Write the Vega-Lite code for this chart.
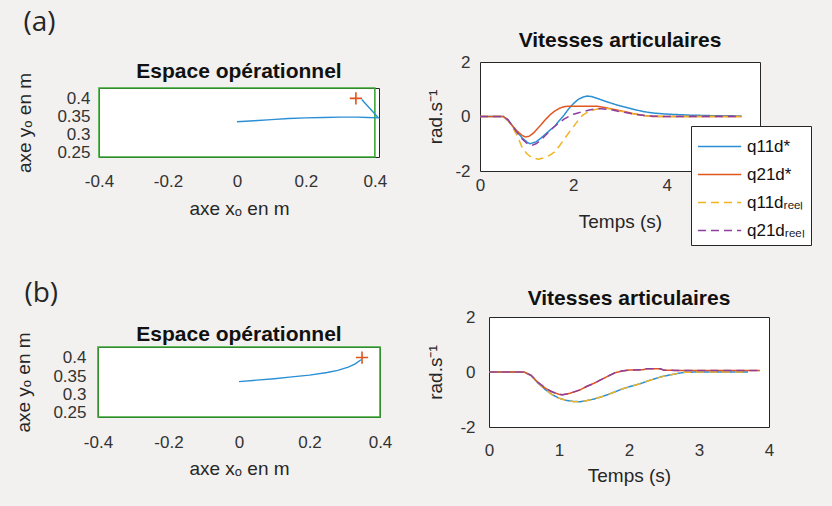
{
  "$schema": "https://vega.github.io/schema/vega-lite/v6.json",
  "background": "#f2f1f0",
  "padding": {"left": 14, "top": 8, "right": 20, "bottom": 22},
  "config": {
    "font": "Liberation Sans",
    "locale": {"number": {"decimal": ".", "thousands": ",", "grouping": [3], "currency": ["$", ""], "minus": "-"}},
    "view": {"stroke": "#262626", "strokeWidth": 1, "fill": "white"},
    "axis": {"grid": false, "domain": false, "labelFont": "Liberation Sans", "labelFontSize": 17, "labelColor": "#333333", "titleFont": "Liberation Sans", "titleFontSize": 19, "titleFontWeight": "normal", "titleColor": "#262626", "tickColor": "#262626", "ticks": false, "labelFlush": false, "labelOverlap": false, "labelBound": false, "format": "~g"},
    "title": {"fontSize": 21, "fontWeight": "bold", "color": "#111111", "font": "Liberation Sans"}
  },
  "datasets": {
    "blank": [{"k": 0}],
    "boxA": [{"x": -0.4, "x2": 0.4, "y": 0.238, "y2": 0.43}],
    "trajA": [
      {"i": 0, "x": 0.0, "y": 0.336}, {"i": 1, "x": 0.05, "y": 0.339}, {"i": 2, "x": 0.1, "y": 0.342},
      {"i": 3, "x": 0.15, "y": 0.345}, {"i": 4, "x": 0.2, "y": 0.347}, {"i": 5, "x": 0.25, "y": 0.348},
      {"i": 6, "x": 0.3, "y": 0.349}, {"i": 7, "x": 0.35, "y": 0.349}, {"i": 8, "x": 0.38, "y": 0.348},
      {"i": 9, "x": 0.41, "y": 0.347}, {"i": 10, "x": 0.362, "y": 0.398}
    ],
    "targetA": [{"x": 0.345, "y": 0.401}],
    "trajB": [
      {"i": 0, "x": 0.0, "y": 0.335}, {"i": 1, "x": 0.05, "y": 0.339}, {"i": 2, "x": 0.1, "y": 0.343},
      {"i": 3, "x": 0.15, "y": 0.348}, {"i": 4, "x": 0.2, "y": 0.353}, {"i": 5, "x": 0.25, "y": 0.36},
      {"i": 6, "x": 0.28, "y": 0.366}, {"i": 7, "x": 0.31, "y": 0.375}, {"i": 8, "x": 0.33, "y": 0.384},
      {"i": 9, "x": 0.346, "y": 0.395}
    ],
    "targetB": [{"x": 0.349, "y": 0.401}],
    "velA": [
      {"s": "q11d*", "t": 0, "v": 0}, {"s": "q11d*", "t": 0.5, "v": 0}, {"s": "q11d*", "t": 0.6, "v": -0.12},
      {"s": "q11d*", "t": 0.7, "v": -0.35}, {"s": "q11d*", "t": 0.8, "v": -0.58}, {"s": "q11d*", "t": 0.9, "v": -0.78},
      {"s": "q11d*", "t": 1.0, "v": -0.93}, {"s": "q11d*", "t": 1.07, "v": -1.0}, {"s": "q11d*", "t": 1.2, "v": -0.93},
      {"s": "q11d*", "t": 1.3, "v": -0.8}, {"s": "q11d*", "t": 1.4, "v": -0.65}, {"s": "q11d*", "t": 1.5, "v": -0.5},
      {"s": "q11d*", "t": 1.6, "v": -0.36}, {"s": "q11d*", "t": 1.7, "v": -0.15}, {"s": "q11d*", "t": 1.8, "v": 0.05},
      {"s": "q11d*", "t": 1.9, "v": 0.28}, {"s": "q11d*", "t": 2.0, "v": 0.47}, {"s": "q11d*", "t": 2.1, "v": 0.62},
      {"s": "q11d*", "t": 2.2, "v": 0.71}, {"s": "q11d*", "t": 2.3, "v": 0.75}, {"s": "q11d*", "t": 2.4, "v": 0.73},
      {"s": "q11d*", "t": 2.5, "v": 0.67}, {"s": "q11d*", "t": 2.7, "v": 0.55}, {"s": "q11d*", "t": 2.9, "v": 0.44},
      {"s": "q11d*", "t": 3.1, "v": 0.35}, {"s": "q11d*", "t": 3.3, "v": 0.26}, {"s": "q11d*", "t": 3.5, "v": 0.18},
      {"s": "q11d*", "t": 3.7, "v": 0.13}, {"s": "q11d*", "t": 3.9, "v": 0.1}, {"s": "q11d*", "t": 4.1, "v": 0.08},
      {"s": "q11d*", "t": 4.5, "v": 0.05}, {"s": "q11d*", "t": 5.0, "v": 0.03}, {"s": "q11d*", "t": 5.6, "v": 0.02},
      {"s": "q21d*", "t": 0, "v": 0}, {"s": "q21d*", "t": 0.5, "v": 0}, {"s": "q21d*", "t": 0.6, "v": -0.15},
      {"s": "q21d*", "t": 0.7, "v": -0.36}, {"s": "q21d*", "t": 0.8, "v": -0.54}, {"s": "q21d*", "t": 0.9, "v": -0.69},
      {"s": "q21d*", "t": 0.97, "v": -0.75}, {"s": "q21d*", "t": 1.05, "v": -0.73}, {"s": "q21d*", "t": 1.15, "v": -0.6},
      {"s": "q21d*", "t": 1.3, "v": -0.32}, {"s": "q21d*", "t": 1.4, "v": -0.12}, {"s": "q21d*", "t": 1.5, "v": 0.06},
      {"s": "q21d*", "t": 1.6, "v": 0.2}, {"s": "q21d*", "t": 1.7, "v": 0.3}, {"s": "q21d*", "t": 1.8, "v": 0.36},
      {"s": "q21d*", "t": 1.9, "v": 0.38}, {"s": "q21d*", "t": 2.5, "v": 0.38}, {"s": "q21d*", "t": 2.7, "v": 0.32},
      {"s": "q21d*", "t": 2.9, "v": 0.25}, {"s": "q21d*", "t": 3.1, "v": 0.18}, {"s": "q21d*", "t": 3.3, "v": 0.1},
      {"s": "q21d*", "t": 3.5, "v": 0.04}, {"s": "q21d*", "t": 3.7, "v": 0.0}, {"s": "q21d*", "t": 5.6, "v": 0.0},
      {"s": "q11dᵣₑₑₗ", "t": 0, "v": 0}, {"s": "q11dᵣₑₑₗ", "t": 0.5, "v": 0}, {"s": "q11dᵣₑₑₗ", "t": 0.6, "v": -0.14},
      {"s": "q11dᵣₑₑₗ", "t": 0.7, "v": -0.4}, {"s": "q11dᵣₑₑₗ", "t": 0.8, "v": -0.72}, {"s": "q11dᵣₑₑₗ", "t": 0.9, "v": -1.12},
      {"s": "q11dᵣₑₑₗ", "t": 1.0, "v": -1.36}, {"s": "q11dᵣₑₑₗ", "t": 1.1, "v": -1.5}, {"s": "q11dᵣₑₑₗ", "t": 1.25, "v": -1.57},
      {"s": "q11dᵣₑₑₗ", "t": 1.4, "v": -1.5}, {"s": "q11dᵣₑₑₗ", "t": 1.5, "v": -1.42}, {"s": "q11dᵣₑₑₗ", "t": 1.6, "v": -1.3},
      {"s": "q11dᵣₑₑₗ", "t": 1.7, "v": -1.08}, {"s": "q11dᵣₑₑₗ", "t": 1.8, "v": -0.85}, {"s": "q11dᵣₑₑₗ", "t": 1.9, "v": -0.6},
      {"s": "q11dᵣₑₑₗ", "t": 2.0, "v": -0.38}, {"s": "q11dᵣₑₑₗ", "t": 2.1, "v": -0.15}, {"s": "q11dᵣₑₑₗ", "t": 2.2, "v": 0.05},
      {"s": "q11dᵣₑₑₗ", "t": 2.3, "v": 0.15}, {"s": "q11dᵣₑₑₗ", "t": 2.4, "v": 0.22}, {"s": "q11dᵣₑₑₗ", "t": 2.5, "v": 0.27},
      {"s": "q11dᵣₑₑₗ", "t": 2.6, "v": 0.3}, {"s": "q11dᵣₑₑₗ", "t": 2.8, "v": 0.28}, {"s": "q11dᵣₑₑₗ", "t": 3.0, "v": 0.2},
      {"s": "q11dᵣₑₑₗ", "t": 3.2, "v": 0.13}, {"s": "q11dᵣₑₑₗ", "t": 3.4, "v": 0.06}, {"s": "q11dᵣₑₑₗ", "t": 3.6, "v": 0.02},
      {"s": "q11dᵣₑₑₗ", "t": 4.0, "v": 0.0}, {"s": "q11dᵣₑₑₗ", "t": 5.6, "v": 0.0},
      {"s": "q21dᵣₑₑₗ", "t": 0, "v": 0}, {"s": "q21dᵣₑₑₗ", "t": 0.5, "v": 0}, {"s": "q21dᵣₑₑₗ", "t": 0.6, "v": -0.12},
      {"s": "q21dᵣₑₑₗ", "t": 0.7, "v": -0.36}, {"s": "q21dᵣₑₑₗ", "t": 0.8, "v": -0.6}, {"s": "q21dᵣₑₑₗ", "t": 0.9, "v": -0.82},
      {"s": "q21dᵣₑₑₗ", "t": 1.0, "v": -0.98}, {"s": "q21dᵣₑₑₗ", "t": 1.1, "v": -1.07}, {"s": "q21dᵣₑₑₗ", "t": 1.2, "v": -1.0},
      {"s": "q21dᵣₑₑₗ", "t": 1.3, "v": -0.87}, {"s": "q21dᵣₑₑₗ", "t": 1.4, "v": -0.7}, {"s": "q21dᵣₑₑₗ", "t": 1.5, "v": -0.52},
      {"s": "q21dᵣₑₑₗ", "t": 1.6, "v": -0.36}, {"s": "q21dᵣₑₑₗ", "t": 1.7, "v": -0.22}, {"s": "q21dᵣₑₑₗ", "t": 1.8, "v": -0.1},
      {"s": "q21dᵣₑₑₗ", "t": 1.9, "v": 0.0}, {"s": "q21dᵣₑₑₗ", "t": 2.0, "v": 0.08}, {"s": "q21dᵣₑₑₗ", "t": 2.1, "v": 0.13},
      {"s": "q21dᵣₑₑₗ", "t": 2.2, "v": 0.18}, {"s": "q21dᵣₑₑₗ", "t": 2.3, "v": 0.22}, {"s": "q21dᵣₑₑₗ", "t": 2.4, "v": 0.26},
      {"s": "q21dᵣₑₑₗ", "t": 2.5, "v": 0.28}, {"s": "q21dᵣₑₑₗ", "t": 2.6, "v": 0.28}, {"s": "q21dᵣₑₑₗ", "t": 2.8, "v": 0.25},
      {"s": "q21dᵣₑₑₗ", "t": 3.0, "v": 0.18}, {"s": "q21dᵣₑₑₗ", "t": 3.2, "v": 0.12}, {"s": "q21dᵣₑₑₗ", "t": 3.4, "v": 0.06},
      {"s": "q21dᵣₑₑₗ", "t": 3.6, "v": 0.02}, {"s": "q21dᵣₑₑₗ", "t": 4.0, "v": 0.0}, {"s": "q21dᵣₑₑₗ", "t": 5.6, "v": 0.0}
    ],
    "velB": [
      {"s": "q11d*", "t": 0, "v": 0}, {"s": "q11d*", "t": 0.5, "v": 0}, {"s": "q11d*", "t": 0.6, "v": -0.12},
      {"s": "q11d*", "t": 0.7, "v": -0.4}, {"s": "q11d*", "t": 0.8, "v": -0.63}, {"s": "q11d*", "t": 0.9, "v": -0.82},
      {"s": "q11d*", "t": 1.0, "v": -0.95}, {"s": "q11d*", "t": 1.1, "v": -1.03}, {"s": "q11d*", "t": 1.2, "v": -1.07},
      {"s": "q11d*", "t": 1.3, "v": -1.08}, {"s": "q11d*", "t": 1.4, "v": -1.04}, {"s": "q11d*", "t": 1.5, "v": -0.98},
      {"s": "q11d*", "t": 1.6, "v": -0.91}, {"s": "q11d*", "t": 1.7, "v": -0.82}, {"s": "q11d*", "t": 1.8, "v": -0.72},
      {"s": "q11d*", "t": 1.9, "v": -0.62}, {"s": "q11d*", "t": 2.0, "v": -0.54}, {"s": "q11d*", "t": 2.1, "v": -0.47},
      {"s": "q11d*", "t": 2.2, "v": -0.39}, {"s": "q11d*", "t": 2.3, "v": -0.3}, {"s": "q11d*", "t": 2.4, "v": -0.22},
      {"s": "q11d*", "t": 2.5, "v": -0.15}, {"s": "q11d*", "t": 2.6, "v": -0.1}, {"s": "q11d*", "t": 2.7, "v": -0.05},
      {"s": "q11d*", "t": 2.8, "v": -0.01}, {"s": "q11d*", "t": 3.0, "v": 0.0}, {"s": "q11d*", "t": 3.7, "v": 0.0},
      {"s": "q21d*", "t": 0, "v": 0}, {"s": "q21d*", "t": 0.5, "v": 0}, {"s": "q21d*", "t": 0.6, "v": -0.12},
      {"s": "q21d*", "t": 0.7, "v": -0.38}, {"s": "q21d*", "t": 0.8, "v": -0.58}, {"s": "q21d*", "t": 0.9, "v": -0.72},
      {"s": "q21d*", "t": 1.0, "v": -0.81}, {"s": "q21d*", "t": 1.05, "v": -0.83}, {"s": "q21d*", "t": 1.15, "v": -0.78},
      {"s": "q21d*", "t": 1.3, "v": -0.65}, {"s": "q21d*", "t": 1.4, "v": -0.52}, {"s": "q21d*", "t": 1.5, "v": -0.41},
      {"s": "q21d*", "t": 1.6, "v": -0.28}, {"s": "q21d*", "t": 1.7, "v": -0.15}, {"s": "q21d*", "t": 1.8, "v": -0.03},
      {"s": "q21d*", "t": 1.9, "v": 0.04}, {"s": "q21d*", "t": 2.0, "v": 0.07}, {"s": "q21d*", "t": 2.2, "v": 0.08},
      {"s": "q21d*", "t": 2.25, "v": 0.12}, {"s": "q21d*", "t": 2.45, "v": 0.12}, {"s": "q21d*", "t": 2.5, "v": 0.06},
      {"s": "q21d*", "t": 3.87, "v": 0.05},
      {"s": "q11dᵣₑₑₗ", "t": 0, "v": 0}, {"s": "q11dᵣₑₑₗ", "t": 0.5, "v": 0}, {"s": "q11dᵣₑₑₗ", "t": 0.6, "v": -0.12},
      {"s": "q11dᵣₑₑₗ", "t": 0.7, "v": -0.4}, {"s": "q11dᵣₑₑₗ", "t": 0.8, "v": -0.63}, {"s": "q11dᵣₑₑₗ", "t": 0.9, "v": -0.82},
      {"s": "q11dᵣₑₑₗ", "t": 1.0, "v": -0.95}, {"s": "q11dᵣₑₑₗ", "t": 1.1, "v": -1.03}, {"s": "q11dᵣₑₑₗ", "t": 1.2, "v": -1.07},
      {"s": "q11dᵣₑₑₗ", "t": 1.3, "v": -1.08}, {"s": "q11dᵣₑₑₗ", "t": 1.4, "v": -1.04}, {"s": "q11dᵣₑₑₗ", "t": 1.5, "v": -0.98},
      {"s": "q11dᵣₑₑₗ", "t": 1.6, "v": -0.91}, {"s": "q11dᵣₑₑₗ", "t": 1.7, "v": -0.82}, {"s": "q11dᵣₑₑₗ", "t": 1.8, "v": -0.72},
      {"s": "q11dᵣₑₑₗ", "t": 1.9, "v": -0.62}, {"s": "q11dᵣₑₑₗ", "t": 2.0, "v": -0.54}, {"s": "q11dᵣₑₑₗ", "t": 2.1, "v": -0.47},
      {"s": "q11dᵣₑₑₗ", "t": 2.2, "v": -0.39}, {"s": "q11dᵣₑₑₗ", "t": 2.3, "v": -0.3}, {"s": "q11dᵣₑₑₗ", "t": 2.4, "v": -0.22},
      {"s": "q11dᵣₑₑₗ", "t": 2.5, "v": -0.15}, {"s": "q11dᵣₑₑₗ", "t": 2.6, "v": -0.1}, {"s": "q11dᵣₑₑₗ", "t": 2.7, "v": -0.05},
      {"s": "q11dᵣₑₑₗ", "t": 2.8, "v": -0.01}, {"s": "q11dᵣₑₑₗ", "t": 3.0, "v": 0.0}, {"s": "q11dᵣₑₑₗ", "t": 3.7, "v": 0.0},
      {"s": "q21dᵣₑₑₗ", "t": 0, "v": 0}, {"s": "q21dᵣₑₑₗ", "t": 0.5, "v": 0}, {"s": "q21dᵣₑₑₗ", "t": 0.6, "v": -0.12},
      {"s": "q21dᵣₑₑₗ", "t": 0.7, "v": -0.38}, {"s": "q21dᵣₑₑₗ", "t": 0.8, "v": -0.58}, {"s": "q21dᵣₑₑₗ", "t": 0.9, "v": -0.72},
      {"s": "q21dᵣₑₑₗ", "t": 1.0, "v": -0.81}, {"s": "q21dᵣₑₑₗ", "t": 1.05, "v": -0.83}, {"s": "q21dᵣₑₑₗ", "t": 1.15, "v": -0.78},
      {"s": "q21dᵣₑₑₗ", "t": 1.3, "v": -0.65}, {"s": "q21dᵣₑₑₗ", "t": 1.4, "v": -0.52}, {"s": "q21dᵣₑₑₗ", "t": 1.5, "v": -0.41},
      {"s": "q21dᵣₑₑₗ", "t": 1.6, "v": -0.28}, {"s": "q21dᵣₑₑₗ", "t": 1.7, "v": -0.15}, {"s": "q21dᵣₑₑₗ", "t": 1.8, "v": -0.03},
      {"s": "q21dᵣₑₑₗ", "t": 1.9, "v": 0.04}, {"s": "q21dᵣₑₑₗ", "t": 2.0, "v": 0.07}, {"s": "q21dᵣₑₑₗ", "t": 2.2, "v": 0.08},
      {"s": "q21dᵣₑₑₗ", "t": 2.25, "v": 0.12}, {"s": "q21dᵣₑₑₗ", "t": 2.45, "v": 0.12}, {"s": "q21dᵣₑₑₗ", "t": 2.5, "v": 0.06},
      {"s": "q21dᵣₑₑₗ", "t": 3.87, "v": 0.05}
    ]
  },
  "spacing": 33,
  "resolve": {"scale": {"color": "independent", "strokeDash": "independent", "x": "independent", "y": "independent"}, "legend": {"color": "independent", "strokeDash": "independent"}},
  "vconcat": [
    {
      "title": {"text": "(a)", "anchor": "start", "fontSize": 28, "fontWeight": "normal", "font": "Open Sans", "color": "#262626", "offset": -7, "dx": 8},
      "spacing": 38,
      "resolve": {"scale": {"color": "independent", "strokeDash": "independent", "x": "independent", "y": "independent"}, "legend": {"color": "independent", "strokeDash": "independent"}},
      "hconcat": [
        {
          "spacing": -102,
          "hconcat": [
            {"width": 1, "height": 1, "data": {"name": "blank"}, "mark": {"type": "point", "size": 0, "opacity": 0}, "encoding": {}, "view": {"stroke": null, "fill": null}},
            {
              "spacing": -3,
              "vconcat": [
                {"width": 1, "height": 1, "data": {"name": "blank"}, "mark": {"type": "point", "size": 0, "opacity": 0}, "encoding": {}, "view": {"stroke": null, "fill": null}},
                {
                  "width": 280, "height": 69,
                  "title": {"text": "Espace opérationnel", "offset": -10},
                  "encoding": {
                    "x": {"field": "x", "type": "quantitative", "scale": {"domain": [-0.4, 0.412], "nice": false, "zero": false}, "axis": {"values": [-0.4, -0.2, 0, 0.2, 0.4], "title": "axe xₒ en m", "labelPadding": 16, "titlePadding": 10}},
                    "y": {"field": "y", "type": "quantitative", "scale": {"domain": [0.238, 0.43], "nice": false, "zero": false}, "axis": {"values": [0.25, 0.3, 0.35, 0.4], "title": "axe yₒ en m", "labelPadding": 9, "titlePadding": 22}}
                  },
                  "layer": [
                    {"data": {"name": "boxA"}, "mark": {"type": "rect", "filled": false, "stroke": "#3aaa35", "strokeWidth": 1.6}, "encoding": {"x2": {"field": "x2"}, "y2": {"field": "y2"}}},
                    {"data": {"name": "trajA"}, "mark": {"type": "line", "color": "#2b8fd4", "strokeWidth": 1.4}, "encoding": {"order": {"field": "i", "type": "quantitative"}}},
                    {"data": {"name": "targetA"}, "mark": {"type": "point", "shape": "M-1,0L1,0M0,-1L0,1", "size": 150, "filled": false, "stroke": "#e0531b", "strokeWidth": 1.6, "opacity": 1}}
                  ]
                }
              ]
            }
          ]
        },
        {
          "width": 280, "height": 109,
          "title": {"text": "Vitesses articulaires", "offset": 2},
          "data": {"name": "velA"},
          "mark": {"type": "line", "strokeWidth": 1.5},
          "encoding": {
            "x": {"field": "t", "type": "quantitative", "scale": {"domain": [0, 6], "nice": false}, "axis": {"values": [0, 2, 4], "title": "Temps (s)", "labelPadding": 6, "titlePadding": 19}},
            "y": {"field": "v", "type": "quantitative", "scale": {"domain": [-2, 2], "nice": false}, "axis": {"values": [-2, 0, 2], "title": "rad.s⁻¹", "labelPadding": 10, "titlePadding": 9}},
            "color": {"field": "s", "type": "nominal", "scale": {"domain": ["q11d*", "q21d*", "q11dᵣₑₑₗ", "q21dᵣₑₑₗ"], "range": ["#2b8fd4", "#e0561f", "#f0b323", "#8e3f9e"]},
              "legend": {"orient": "none", "legendX": 211, "legendY": 64, "title": null, "fillColor": "white", "strokeColor": "#262626", "padding": 6, "symbolType": "M-1,0L2.2,0", "symbolSize": 729, "symbolStrokeWidth": 1.5, "labelFontSize": 17, "labelFont": "Liberation Sans", "labelColor": "#111111", "rowPadding": 5, "labelOffset": 21, "cornerRadius": 0}},
            "strokeDash": {"field": "s", "type": "nominal", "scale": {"domain": ["q11d*", "q21d*", "q11dᵣₑₑₗ", "q21dᵣₑₑₗ"], "range": [[1, 0], [1, 0], [8, 5], [8, 5]]},
              "legend": {"orient": "none", "legendX": 211, "legendY": 64, "title": null, "fillColor": "white", "strokeColor": "#262626", "padding": 6, "symbolType": "M-1,0L2.2,0", "symbolSize": 729, "symbolStrokeWidth": 1.5, "labelFontSize": 17, "labelFont": "Liberation Sans", "labelColor": "#111111", "rowPadding": 5, "labelOffset": 21, "cornerRadius": 0}}
          }
        }
      ]
    },
    {
      "title": {"text": "(b)", "anchor": "start", "fontSize": 28, "fontWeight": "normal", "font": "Open Sans", "color": "#262626", "offset": -20, "dx": 10},
      "spacing": 33,
      "resolve": {"scale": {"color": "independent", "strokeDash": "independent", "x": "independent", "y": "independent"}, "legend": {"color": "independent", "strokeDash": "independent"}},
      "hconcat": [
        {
          "spacing": 5,
          "vconcat": [
            {"width": 1, "height": 1, "data": {"name": "blank"}, "mark": {"type": "point", "size": 0, "opacity": 0}, "encoding": {}, "view": {"stroke": null, "fill": null}},
            {
              "width": 282, "height": 70,
              "title": {"text": "Espace opérationnel", "offset": -13},
              "encoding": {
                "x": {"field": "x", "type": "quantitative", "scale": {"domain": [-0.4, 0.4], "nice": false, "zero": false}, "axis": {"values": [-0.4, -0.2, 0, 0.2, 0.4], "title": "axe xₒ en m", "labelPadding": 17, "titlePadding": 9}},
                "y": {"field": "y", "type": "quantitative", "scale": {"domain": [0.238, 0.43], "nice": false, "zero": false}, "axis": {"values": [0.25, 0.3, 0.35, 0.4], "title": "axe yₒ en m", "labelPadding": 12, "titlePadding": 19}}
              },
              "layer": [
                {"data": {"name": "boxA"}, "mark": {"type": "rect", "filled": false, "stroke": "#3aaa35", "strokeWidth": 1.6}, "encoding": {"x2": {"field": "x2"}, "y2": {"field": "y2"}}},
                {"data": {"name": "trajB"}, "mark": {"type": "line", "color": "#2b8fd4", "strokeWidth": 1.4}, "encoding": {"order": {"field": "i", "type": "quantitative"}}},
                {"data": {"name": "targetB"}, "mark": {"type": "point", "shape": "M-1,0L1,0M0,-1L0,1", "size": 150, "filled": false, "stroke": "#e0531b", "strokeWidth": 1.6, "opacity": 1}}
              ]
            }
          ]
        },
        {
          "width": 280, "height": 110,
          "title": {"text": "Vitesses articulaires", "offset": -1},
          "data": {"name": "velB"},
          "mark": {"type": "line", "strokeWidth": 1.5},
          "encoding": {
            "x": {"field": "t", "type": "quantitative", "scale": {"domain": [0, 4], "nice": false}, "axis": {"values": [0, 1, 2, 3, 4], "title": "Temps (s)", "labelPadding": 15, "titlePadding": 8}},
            "y": {"field": "v", "type": "quantitative", "scale": {"domain": [-2, 2], "nice": false}, "axis": {"values": [-2, 0, 2], "title": "rad.s⁻¹", "labelPadding": 14, "titlePadding": 14}},
            "color": {"field": "s", "type": "nominal", "scale": {"domain": ["q11d*", "q21d*", "q11dᵣₑₑₗ", "q21dᵣₑₑₗ"], "range": ["#2b8fd4", "#e0561f", "#f0b323", "#8e3f9e"]}, "legend": null},
            "strokeDash": {"field": "s", "type": "nominal", "scale": {"domain": ["q11d*", "q21d*", "q11dᵣₑₑₗ", "q21dᵣₑₑₗ"], "range": [[1, 0], [1, 0], [8, 5], [8, 5]]}, "legend": null}
          }
        }
      ]
    }
  ]
}
